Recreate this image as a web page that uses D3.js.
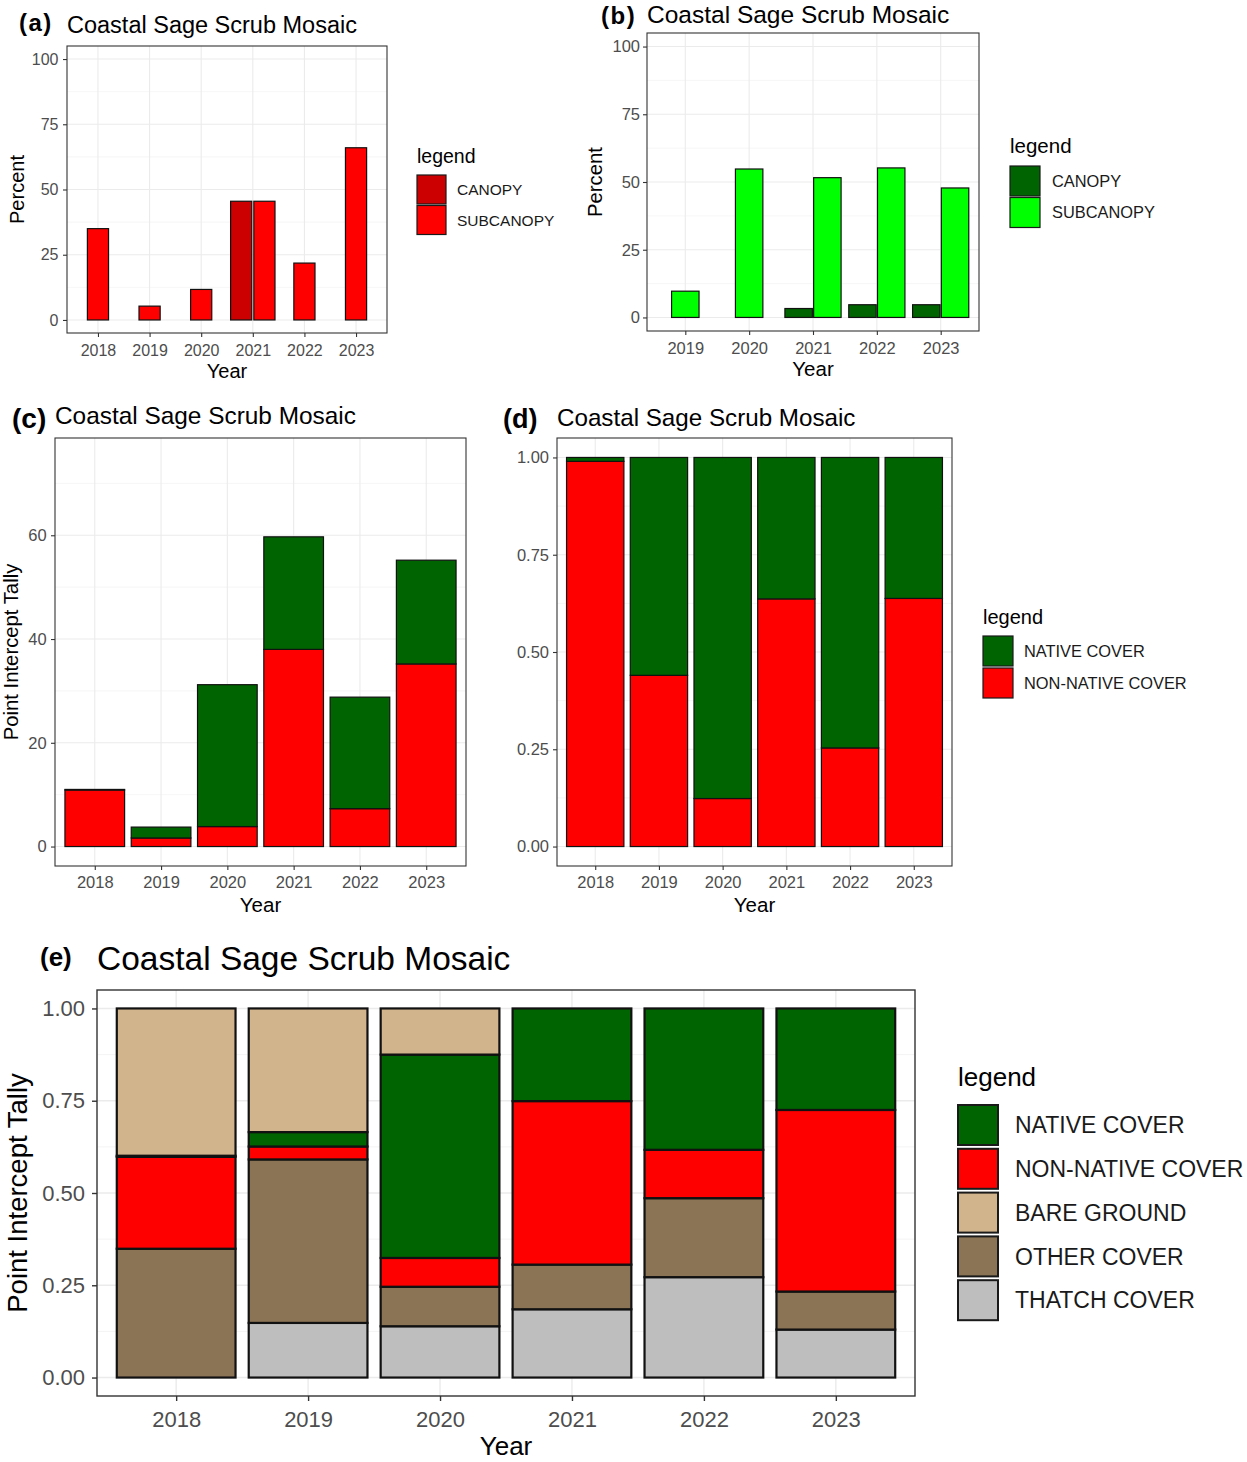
<!DOCTYPE html>
<html>
<head>
<meta charset="utf-8">
<script src="https://cdn.jsdelivr.net/npm/d3@7"></script>
<style>
  body { margin: 0; background: #fff; }
  svg { display: block; font-family: "Liberation Sans", Arial, sans-serif; }
</style>
</head>
<body>
<div id="chart"></div>
<script>
// ---- datos ----
const yearsA = ["2018", "2019", "2020", "2021", "2022", "2023"]
const canopyA = [0, 0, 0, 45.5, 0, 0]
const subcanopyA = [35, 5.3, 11.7, 45.5, 21.8, 66]

const yearsB = ["2019", "2020", "2021", "2022", "2023"]
const canopyB = [0, 0, 3.3, 4.7, 4.7]
const subcanopyB = [9.7, 54.8, 51.6, 55.2, 47.8]

// tallies (c); (d) es la misma tabla normalizada a 1
const yearsC = ["2018", "2019", "2020", "2021", "2022", "2023"]
const nativeC = [0.11, 2.1, 27.35, 21.7, 21.5, 20.0]
const nonNativeC = [10.9, 1.65, 3.85, 38.0, 7.3, 35.2]

// proporciones (e)
const yearsE = ["2018", "2019", "2020", "2021", "2022", "2023"]
const nativeE = [0.003, 0.039, 0.551, 0.251, 0.383, 0.275]
const nonNativeE = [0.249, 0.035, 0.078, 0.443, 0.131, 0.492]
const bareE = [0.399, 0.335, 0.125, 0, 0, 0]
const otherE = [0.349, 0.443, 0.107, 0.121, 0.214, 0.103]
const thatchE = [0, 0.148, 0.139, 0.185, 0.272, 0.130]

const ticksPercent = [0, 25, 50, 75, 100]
const ticksTally = [0, 20, 40, 60]
const ticksFill = [0, 0.25, 0.5, 0.75, 1]

const legendAB = ["CANOPY", "SUBCANOPY"]
const legendCD = ["NATIVE COVER", "NON-NATIVE COVER"]
const legendE = ["NATIVE COVER", "NON-NATIVE COVER", "BARE GROUND", "OTHER COVER", "THATCH COVER"]

const title = "Coastal Sage Scrub Mosaic"

const colors = {
  canopyA: "#CC0000", subA: "#FF0000",
  canopyB: "#006400", subB: "#00FF00",
  native: "#006400", nonNative: "#FF0000",
  bare: "#D2B48C", other: "#8B7355", thatch: "#BEBEBE"
}

const FONT = '"Liberation Sans", Arial, sans-serif'

const svg = d3.select("#chart").append("svg")
  .attr("width", 1247)
  .attr("height", 1462)

svg.append("rect").attr("width", 1247).attr("height", 1462).attr("fill", "#fff")

function text(x, y, str, { fs = 16, weight = "normal", anchor = "start", fill = "#000", rotate = false, ls = 0 } = {}) {
  const t = svg.append("text")
    .attr("font-size", fs)
    .attr("font-weight", weight)
    .attr("text-anchor", anchor)
    .attr("fill", fill)
    .attr("letter-spacing", ls)
    .text(str)
  if (rotate) t.attr("transform", `translate(${x},${y}) rotate(-90)`)
  else t.attr("x", x).attr("y", y)
  return t
}

// Fondo, rejilla y escalas del panel
function frame(p) {
  const g = svg.append("g")
  const x = d3.scalePoint().domain(p.cats).range([p.left, p.right]).padding(0.6)
  const y = d3.scaleLinear().domain(p.yDomain).range([p.bottom, p.top])
  const step = p.ticks[1] - p.ticks[0]
  const minor = d3.range(p.ticks[0] - step / 2, p.yDomain[1], step).filter(v => v > p.yDomain[0])

  g.append("rect")
    .attr("x", p.left).attr("y", p.top)
    .attr("width", p.right - p.left).attr("height", p.bottom - p.top)
    .attr("fill", "#fff")

  g.selectAll("line.minor").data(minor).join("line")
    .attr("x1", p.left).attr("x2", p.right)
    .attr("y1", d => y(d)).attr("y2", d => y(d))
    .attr("stroke", "#F2F2F2").attr("stroke-width", p.gridW * 0.6)

  g.selectAll("line.majy").data(p.ticks).join("line")
    .attr("x1", p.left).attr("x2", p.right)
    .attr("y1", d => y(d)).attr("y2", d => y(d))
    .attr("stroke", "#EBEBEB").attr("stroke-width", p.gridW)

  g.selectAll("line.majx").data(p.cats).join("line")
    .attr("x1", d => x(d)).attr("x2", d => x(d))
    .attr("y1", p.top).attr("y2", p.bottom)
    .attr("stroke", "#EBEBEB").attr("stroke-width", p.gridW)

  return { g, x, y }
}

// Borde, ejes, titulos, leyenda
function finish(p, s) {
  const g = svg.append("g")
  g.append("rect")
    .attr("x", p.left).attr("y", p.top)
    .attr("width", p.right - p.left).attr("height", p.bottom - p.top)
    .attr("fill", "none").attr("stroke", "#333").attr("stroke-width", p.borderW)

  const ay = g.append("g")
    .attr("transform", `translate(${p.left},0)`)
    .call(d3.axisLeft(s.y).tickValues(p.ticks).tickFormat(p.fmt)
      .tickSize(p.tickLen).tickPadding(p.left - p.tickLen - p.yLabelRight))
  ay.attr("font-family", FONT).attr("font-size", p.tickFs)
  ay.select(".domain").remove()
  ay.selectAll("line").attr("stroke", "#333").attr("stroke-width", p.borderW)
  ay.selectAll("text").attr("fill", "#4D4D4D")

  const ax = g.append("g")
    .attr("transform", `translate(0,${p.bottom})`)
    .call(d3.axisBottom(s.x).tickSize(p.tickLen))
  ax.attr("font-family", FONT).attr("font-size", p.tickFs)
  ax.select(".domain").remove()
  ax.selectAll("line").attr("stroke", "#333").attr("stroke-width", p.borderW)
  ax.selectAll("text").attr("fill", "#4D4D4D").attr("dy", null).attr("y", p.xLabelY - p.bottom)

  text((p.left + p.right) / 2, p.xTitleY, "Year", { fs: p.axisFs, anchor: "middle" })
  if (p.yTitle) text(p.yTitleX, (p.top + p.bottom) / 2, p.yTitle, { fs: p.yTitleFs, anchor: "middle", rotate: true })

  text(p.tagX, p.tagY, p.tag, { fs: p.tagFs, weight: "bold", ls: p.tagLs || 0 })
  text(p.left, p.titleY, title, { fs: p.titleFs })

  const L = p.legend
  if (!L) return
  text(L.x, L.titleY, "legend", { fs: L.titleFs })
  L.labels.forEach((lab, i) => {
    const y0 = L.keyY + i * L.step
    svg.append("rect")
      .attr("x", L.x).attr("y", y0)
      .attr("width", L.size).attr("height", L.size)
      .attr("fill", L.colors[i]).attr("stroke", "#1a1a1a").attr("stroke-width", L.sw)
    text(L.labelX, y0 + L.size / 2 + L.fs * 0.36, lab, { fs: L.fs, fill: "#1a1a1a" })
  })
}

// Barras esquivadas (a, b)
function dodgeBars(p, s, cats, series) {
  const step = s.x.step()
  const rows = []
  cats.forEach((c, i) => {
    const present = series.filter(se => se.values[i] > 0)
    present.forEach((se, j) => {
      const off = present.length === 1 ? 0 : (j === 0 ? -p.dodge : p.dodge)
      rows.push({ c, v: se.values[i], color: se.color, off })
    })
  })
  s.g.selectAll("rect.bar").data(rows).join("rect")
    .attr("class", "bar")
    .attr("x", d => s.x(d.c) + d.off * step - p.barW * step / 2)
    .attr("width", p.barW * step)
    .attr("y", d => s.y(d.v))
    .attr("height", d => s.y(0) - s.y(d.v))
    .attr("fill", d => d.color)
    .attr("stroke", "#111").attr("stroke-width", p.barStroke)
}

// Barras apiladas (c, d, e)
function stackBars(p, s, cats, keys, valuesByKey, colorByKey, expand) {
  const table = cats.map((c, i) => {
    const r = { year: c }
    keys.forEach(k => { r[k] = valuesByKey[k][i] })
    return r
  })
  const stack = d3.stack().keys(keys)
  if (expand) stack.offset(d3.stackOffsetExpand)
  const layers = stack(table)
  const step = s.x.step()
  layers.forEach(layer => {
    s.g.selectAll(null).data(layer.filter(d => d[1] - d[0] > 0)).join("rect")
      .attr("x", d => s.x(d.data.year) - p.barW * step / 2)
      .attr("width", p.barW * step)
      .attr("y", d => s.y(d[1]))
      .attr("height", d => s.y(d[0]) - s.y(d[1]))
      .attr("fill", colorByKey[layer.key])
      .attr("stroke", "#111").attr("stroke-width", p.barStroke)
  })
}

// ---- (a) ----
const pA = {
  cats: yearsA, left: 67, right: 387, top: 46, bottom: 333, yDomain: [-5, 105], ticks: ticksPercent,
  fmt: d3.format("d"), tickLen: 4, tickFs: 16, yLabelRight: 58.5, xLabelY: 356, gridW: 1.1, borderW: 1.1,
  axisFs: 20, xTitleY: 378, yTitle: "Percent", yTitleX: 24, yTitleFs: 20,
  tag: "(a)", tagX: 19, tagY: 31, tagFs: 24, tagLs: 1.5, titleY: 32.5, titleFs: 23.5,
  barW: 0.41, dodge: 0.225, barStroke: 1.2,
  legend: { x: 417, titleY: 162.5, titleFs: 19.5, keyY: 175, size: 29, step: 30.5, labelX: 457, fs: 15.5, sw: 1.2,
    labels: legendAB, colors: [colors.canopyA, colors.subA] }
}
const sA = frame(pA)
dodgeBars(pA, sA, yearsA, [
  { values: canopyA, color: colors.canopyA },
  { values: subcanopyA, color: colors.subA }
])
finish(pA, sA)

// ---- (b) ----
const pB = {
  cats: yearsB, left: 647, right: 979, top: 33, bottom: 331, yDomain: [-5, 105], ticks: ticksPercent,
  fmt: d3.format("d"), tickLen: 4, tickFs: 16.5, yLabelRight: 640, xLabelY: 353.5, gridW: 1.1, borderW: 1.1,
  axisFs: 20.5, xTitleY: 376, yTitle: "Percent", yTitleX: 601.5, yTitleFs: 20.3,
  tag: "(b)", tagX: 601, tagY: 23.5, tagFs: 24, tagLs: 1.5, titleY: 22.5, titleFs: 24.5,
  barW: 0.43, dodge: 0.225, barStroke: 1.2,
  legend: { x: 1010, titleY: 152.5, titleFs: 20.5, keyY: 166, size: 30, step: 31.5, labelX: 1052, fs: 16.4, sw: 1.2,
    labels: legendAB, colors: [colors.canopyB, colors.subB] }
}
const sB = frame(pB)
dodgeBars(pB, sB, yearsB, [
  { values: canopyB, color: colors.canopyB },
  { values: subcanopyB, color: colors.subB }
])
finish(pB, sB)

// ---- (c) ----
const pC = {
  cats: yearsC, left: 55, right: 466, top: 438, bottom: 866, yDomain: [-3.75, 78.75], ticks: ticksTally,
  fmt: d3.format("d"), tickLen: 4, tickFs: 16.5, yLabelRight: 46.7, xLabelY: 888, gridW: 1.1, borderW: 1.1,
  axisFs: 20.5, xTitleY: 911.5, yTitle: "Point Intercept Tally", yTitleX: 18, yTitleFs: 20.3,
  tag: "(c)", tagX: 12, tagY: 428, tagFs: 28, titleY: 423.5, titleFs: 24.4,
  barW: 0.9, barStroke: 1.2,
  legend: null
}
const sC = frame(pC)
stackBars(pC, sC, yearsC, ["nonNative", "native"],
  { nonNative: nonNativeC, native: nativeC },
  { nonNative: colors.nonNative, native: colors.native }, false)
finish(pC, sC)

// ---- (d) ----
const pD = {
  cats: yearsC, left: 557, right: 952, top: 438, bottom: 866, yDomain: [-0.05, 1.05], ticks: ticksFill,
  fmt: d3.format(".2f"), tickLen: 4, tickFs: 16.5, yLabelRight: 549, xLabelY: 888, gridW: 1.1, borderW: 1.1,
  axisFs: 20.5, xTitleY: 911.5, yTitle: null,
  tag: "(d)", tagX: 503, tagY: 428, tagFs: 27, titleY: 425.5, titleFs: 24.2,
  barW: 0.9, barStroke: 1.2,
  legend: { x: 983, titleY: 623.5, titleFs: 20, keyY: 636, size: 30, step: 32, labelX: 1024, fs: 16.4, sw: 1.2,
    labels: legendCD, colors: [colors.native, colors.nonNative] }
}
const sD = frame(pD)
stackBars(pD, sD, yearsC, ["nonNative", "native"],
  { nonNative: nonNativeC, native: nativeC },
  { nonNative: colors.nonNative, native: colors.native }, true)
finish(pD, sD)

// ---- (e) ----
const pE = {
  cats: yearsE, left: 97, right: 915, top: 990, bottom: 1396, yDomain: [-0.05, 1.05], ticks: ticksFill,
  fmt: d3.format(".2f"), tickLen: 5, tickFs: 22, yLabelRight: 85, xLabelY: 1427, gridW: 1.4, borderW: 1.4,
  axisFs: 26, xTitleY: 1455, yTitle: "Point Intercept Tally", yTitleX: 27, yTitleFs: 27.5,
  tag: "(e)", tagX: 40, tagY: 966, tagFs: 26, titleY: 970, titleFs: 33.5,
  barW: 0.9, barStroke: 2.2,
  legend: { x: 958, titleY: 1086, titleFs: 26, keyY: 1105, size: 40, step: 43.8, labelX: 1015, fs: 23, sw: 2,
    labels: legendE, colors: [colors.native, colors.nonNative, colors.bare, colors.other, colors.thatch] }
}
const sE = frame(pE)
stackBars(pE, sE, yearsE, ["thatch", "other", "nonNative", "native", "bare"],
  { thatch: thatchE, other: otherE, nonNative: nonNativeE, native: nativeE, bare: bareE },
  { thatch: colors.thatch, other: colors.other, nonNative: colors.nonNative, native: colors.native, bare: colors.bare }, true)
finish(pE, sE)
</script>
</body>
</html>
